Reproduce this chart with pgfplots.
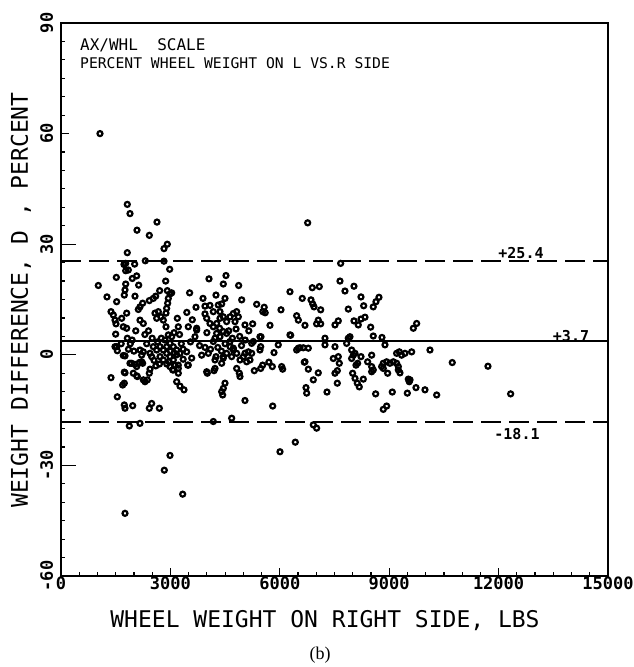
\documentclass[border=0pt]{standalone}
\usepackage{pgfplots}
\pgfplotsset{compat=1.18}
\usepackage{pgfplotstable}
\usepackage{fontspec}
\setmainfont{DejaVu Sans Mono}
\newfontfamily\seriffont{Liberation Serif}

\pgfplotstableread{
x y
1069 60.0
1818 40.8
1892 38.3
2084 33.8
2422 32.4
2632 36.0
2824 28.8
2915 30.0
6764 35.8
1818 27.7
1774 24.8
1727 24.5
2020 24.6
2312 25.5
2824 25.4
7669 24.8
2980 23.2
1774 22.8
1846 23.0
1517 21.0
1955 20.7
2075 21.4
1023 18.8
1774 19.2
2130 18.9
2870 20.0
4058 20.6
4524 21.5
4451 19.2
4872 18.8
1261 15.7
1526 14.4
1755 17.6
1736 16.2
2029 15.9
2706 17.4
2915 17.4
2989 16.5
3035 16.8
2422 14.7
2531 15.3
2596 15.9
3527 16.8
3894 15.3
4250 16.2
4955 14.9
4497 15.3
4406 13.8
4314 13.5
2166 13.0
2239 14.0
2120 12.3
2943 15.3
2925 14.0
2897 12.6
2879 11.3
3702 12.9
3948 13.2
4085 13.4
1371 11.7
1435 10.8
1481 9.4
1508 8.4
1664 9.9
1801 11.3
2577 11.3
2669 11.7
2742 10.3
2806 9.4
2624 9.9
3190 9.9
2166 9.4
2257 8.5
3948 11.1
3995 9.9
4085 8.5
4177 7.6
4268 8.5
4360 9.9
4177 11.7
4360 11.7
4451 10.3
4542 9.0
4634 10.3
4726 11.2
4817 11.7
4863 10.3
4771 9.0
5045 8.1
2879 7.6
3217 7.6
3491 7.6
3720 7.2
1709 7.6
1801 7.2
7650 20.0
6891 18.2
7083 18.5
8034 18.6
7787 17.3
6279 17.1
6616 15.3
6855 14.9
6902 13.8
6938 13.0
7121 12.2
8226 15.7
8719 15.6
8637 14.4
8563 13.0
8300 13.3
7878 12.4
5366 13.7
5572 12.9
5535 11.7
5599 11.4
6032 12.2
6462 10.6
6508 9.4
7055 9.4
7010 8.4
7121 8.4
7604 9.2
7513 8.1
8034 9.2
8226 9.7
8336 10.2
8152 8.1
8492 7.5
5256 8.4
5731 8.0
6690 8.0
9753 8.5
9662 7.2
5484 4.9
6298 5.3
5229 3.1
5274 3.6
5958 2.7
5456 1.3
5841 0.6
6462 1.3
6553 1.9
6645 1.9
6782 1.8
7239 4.5
7239 2.7
7513 2.2
7878 4.5
7833 3.1
7924 4.9
8563 5.1
8802 4.7
8884 2.7
5229 0.4
5476 2.2
6279 5.4
5301 -4.3
5476 -3.7
5530 -2.8
5795 -3.2
6078 -3.9
6672 -2.0
6782 -3.9
7055 -4.9
6919 -6.8
6718 -8.9
6737 -10.4
7294 -10.1
7577 -7.7
7467 -1.0
7604 -0.5
7632 -2.3
7577 -4.3
7513 -5.0
7970 1.3
8016 -0.1
8062 0.4
7970 -1.0
8226 -0.5
8408 -1.9
8134 -2.3
8089 -2.8
8519 -0.1
7997 -5.0
8062 -6.4
8125 -7.7
8180 -8.7
8290 -6.6
8519 -3.2
8563 -4.1
8519 -4.6
8838 -2.3
8930 -1.9
9021 -2.3
9113 -1.9
9204 -2.3
9250 -3.2
8793 -3.2
8838 -3.7
8957 -5.0
9250 -4.1
9295 -4.9
9204 0.4
9341 -0.1
9432 0.4
9277 0.8
9524 -6.6
9551 -7.3
8628 -10.6
9085 -10.1
9497 -10.4
8930 -13.9
8838 -14.8
5805 -13.9
6919 -19.0
7010 -19.9
6425 -23.7
6005 -26.3
10118 1.3
10729 -2.1
11708 -3.1
9570 -6.8
9734 -8.9
9981 -9.5
10302 -10.9
12330 -10.6
9616 0.8
1371 -6.2
1736 -4.7
1691 -8.2
1736 -7.7
1544 -11.4
1736 -13.6
1755 -14.5
1966 -13.8
2486 -13.2
2422 -14.5
2697 -14.5
1874 -19.3
2166 -18.6
2989 -27.3
2833 -31.3
3337 -37.8
1755 -43.0
2303 -7.3
2367 -6.8
2258 -6.8
1938 -2.3
2029 -2.6
2148 -2.1
2239 -2.3
1983 -5.0
2075 -5.7
2440 -3.9
2422 -5.0
3172 -7.3
3263 -8.5
3373 -9.5
2989 -3.2
3062 -4.1
3217 -2.8
2962 -1.9
3474 -2.8
4012 -5.0
4195 -4.3
4223 -3.7
4497 -7.7
4451 -9.1
4406 -10.0
4433 -10.9
5045 -12.4
4223 -1.4
4451 -0.9
4406 -2.3
4817 -3.7
4890 -5.0
4908 -5.9
5045 0.4
5137 0.8
1481 2.2
1544 1.1
1709 -0.2
1499 5.6
4177 -18.1
4680 -17.2
1526 2.2
1755 -0.3
1892 -2.3
2212 -1.9
2075 -3.2
1755 -4.9
2093 -5.9
2166 1.3
2257 0.8
2212 -0.1
2440 0.4
2486 -0.5
2531 2.2
2624 1.3
2715 2.2
2806 1.3
2898 2.2
2989 3.1
3080 2.2
3172 1.3
2898 0.4
2989 -0.5
2715 -0.5
2806 -1.4
3080 -1.4
3172 0.0
3263 0.4
2943 5.4
3035 4.9
2852 4.0
3126 -2.8
3217 -3.7
3080 -4.1
3217 -5.0
3447 0.8
3491 -2.8
3584 -0.9
3674 4.9
3720 6.7
3857 -0.1
3995 -4.6
4040 0.4
4177 3.6
4223 4.5
4268 5.8
4360 4.9
4451 6.3
4542 5.8
4634 3.6
4726 1.8
4817 0.4
4634 2.2
4726 1.3
4542 0.4
4451 -0.5
4680 -0.5
4908 -1.4
5000 -0.5
5091 -1.9
5183 -1.4
5456 4.9
6508 1.8
6690 -1.9
6051 -3.2
5700 -2.0
2650 3.5
2750 4.5
3100 6.0
3300 3.0
3350 1.5
3250 5.5
2550 -1.5
2600 -3.0
2700 -2.5
3000 1.0
3100 0.5
2900 -2.5
3350 -1.2
2500 4.5
2350 3.0
2300 5.5
2400 6.5
1950 4.0
2050 6.5
1850 1.5
2000 1.0
1650 3.0
3550 3.5
3800 2.5
3600 9.5
3450 11.5
4300 2.0
4400 1.0
4500 3.0
4600 6.5
4700 4.5
4800 7.0
4900 5.0
4250 -0.5
4350 7.2
4950 2.5
5050 4.0
5150 6.5
4100 1.5
3950 2.0
4000 6.0
1820 4.5
1900 3.0
}\pts

\begin{document}
\begin{tikzpicture}
\begin{axis}[
  at={(0pt,0pt)}, anchor=south west,
  scale only axis, width=547pt, height=553pt,
  xmin=0, xmax=15000, ymin=-60, ymax=90,
  xtick={0,3000,...,15000}, ytick={-60,-30,...,90},
  scaled x ticks=false, scaled y ticks=false,
  minor x tick num=5, minor y tick num=5,
  tick pos=left, tick align=inside,
  major tick length=8pt, minor tick length=4pt,
  extra y ticks={-30,0,30}, extra y tick labels={},
  extra y tick style={major tick length=15pt},
  axis line style={line width=1.6pt},
  every tick/.style={line width=1.2pt, black},
  /pgf/number format/assume math mode=true,
  /pgf/number format/1000 sep={},
  xticklabel style={anchor=base, font=\fontsize{17}{17}\selectfont\bfseries},
  xticklabel shift=13pt,
  yticklabel style={rotate=90, anchor=base, font=\fontsize{17}{17}\selectfont\bfseries},
  yticklabel shift=8pt,
  clip mode=individual,
]
\addplot[black, line width=2pt, dash pattern=on 20pt off 8pt] coordinates {(0,25.4) (15000,25.4)};
\addplot[black, line width=1.8pt] coordinates {(0,3.7) (15000,3.7)};
\addplot[black, line width=2pt, dash pattern=on 20pt off 8pt] coordinates {(0,-18.1) (15000,-18.1)};
\addplot[only marks, mark=o, mark size=2.5pt, mark options={line width=2.2pt, black}] table[x=x, y=y] {\pts};
\end{axis}
% labels (axis south west at 0,0; 1pt = 1 reference pixel)
\node[font=\fontsize{23}{23}\selectfont] at (264pt,-45pt) {WHEEL WEIGHT ON RIGHT SIDE, LBS};
\node[font=\fontsize{23}{23}\selectfont, rotate=90] at (-40pt,276pt) {WEIGHT DIFFERENCE, D , PERCENT};
\node[font=\seriffont\fontsize{18}{18}\selectfont] at (259pt,-79pt) {(b)};
\node[anchor=west, font=\fontsize{16}{16}\selectfont, inner sep=0pt] at (19pt,531pt) {AX/WHL\ \ SCALE};
\node[anchor=west, font=\fontsize{14.7}{14.7}\selectfont, inner sep=0pt] at (19pt,513pt) {PERCENT WHEEL WEIGHT ON L VS.R SIDE};
\node[font=\fontsize{15}{15}\selectfont\bfseries] at (460pt,323pt) {+25.4};
\node[font=\fontsize{15}{15}\selectfont\bfseries] at (510pt,240pt) {+3.7};
\node[font=\fontsize{15}{15}\selectfont\bfseries] at (456pt,142pt) {-18.1};
\pgfresetboundingbox
\path (-61pt,-91pt) rectangle (572pt,576pt);
\end{tikzpicture}
\end{document}
